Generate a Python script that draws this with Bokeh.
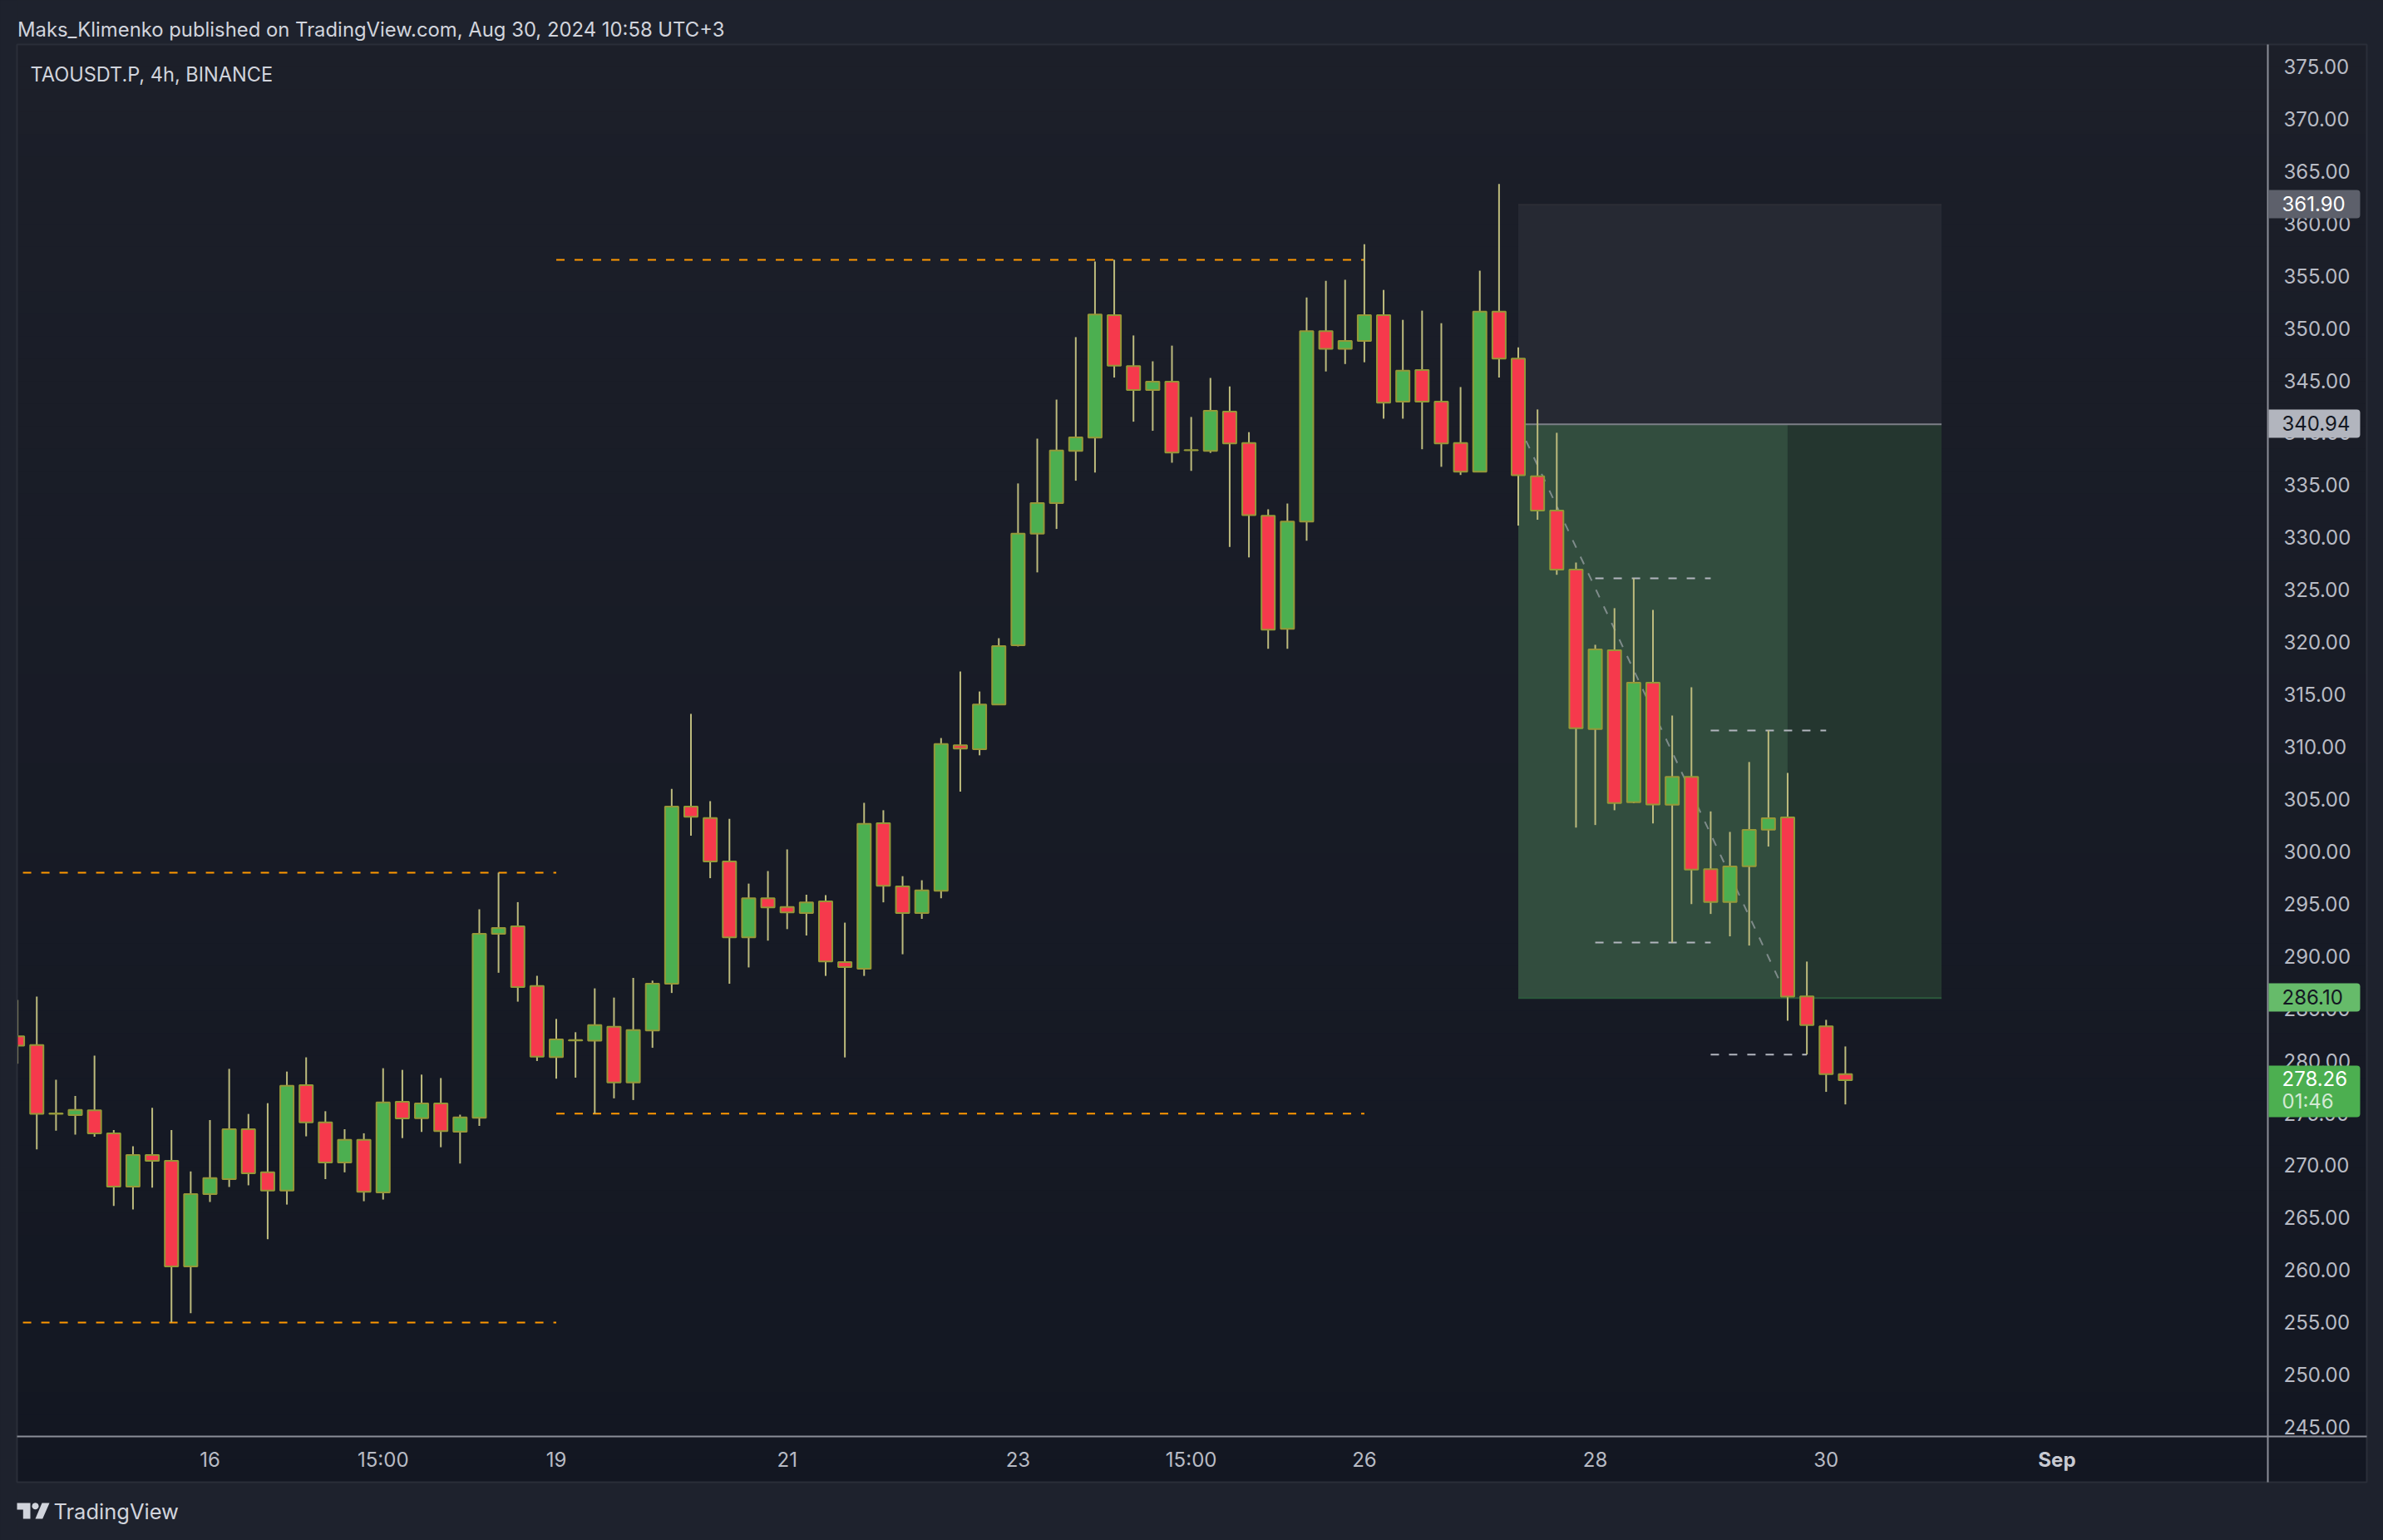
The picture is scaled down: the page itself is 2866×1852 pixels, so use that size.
import math
from bokeh.plotting import figure
from bokeh.models import (Range1d, LinearAxis, FixedTicker, Label, BoxAnnotation,
                          PolyAnnotation, ColumnDataSource, CustomJSTickFormatter)
from bokeh.embed import file_html
from bokeh.resources import INLINE

# ---------- data (TAOUSDT.P 4h candles) ----------
opens = [282.45,281.61,275.08,274.93,275.38,273.18,268.09,271.10,270.55,260.46,
         267.37,268.80,273.57,269.45,267.70,277.78,274.22,270.39,272.56,267.53,
         276.19,274.63,276.03,273.34,274.67,292.25,292.96,287.25,280.47,282.10,
         282.03,283.36,278.04,283.01,287.47,304.40,303.30,299.15,291.91,295.64,
         294.80,294.22,295.35,289.55,288.90,302.81,296.78,294.22,296.36,310.27,
         309.88,314.16,319.81,330.48,333.40,338.39,339.66,351.37,346.50,344.20,
         345.01,338.47,338.39,342.15,339.14,332.20,321.39,331.64,349.84,348.15,
         348.90,351.37,343.10,346.11,343.10,339.14,336.41,351.69,347.21,335.96,
         332.68,327.04,311.81,319.33,304.82,316.23,304.58,307.25,298.43,295.28,
         298.70,302.19,303.36,286.27,283.41,278.83]
highs = [285.92,286.25,278.30,276.75,280.60,273.50,271.94,275.61,273.50,269.54,
         274.44,279.34,275.03,276.06,279.08,280.44,275.29,273.57,273.18,279.40,
         279.24,278.79,278.46,274.96,294.58,298.09,295.27,288.23,284.11,282.84,
         287.03,286.15,288.03,287.77,306.09,313.26,304.92,303.23,297.04,298.24,
         300.31,295.98,295.94,293.31,304.76,304.05,297.75,297.36,310.95,317.31,
         315.40,320.49,335.28,339.56,343.29,349.26,356.49,356.65,349.42,346.95,
         348.45,341.63,345.36,344.55,340.18,332.81,333.36,353.05,354.64,354.74,
         358.14,353.77,350.91,351.79,350.59,344.49,355.61,363.89,348.28,342.35,
         340.12,327.73,319.86,323.36,326.22,323.20,313.11,315.81,303.94,301.98,
         308.66,311.68,307.62,289.59,284.02,281.48]
lows = [279.83,271.65,273.44,273.05,272.85,266.24,265.91,267.99,255.11,255.98,
        266.62,268.05,268.21,263.06,266.37,272.89,268.80,269.45,266.69,266.85,
        272.72,273.31,271.85,270.29,273.89,288.52,285.76,280.09,278.40,278.50,
        275.06,276.52,276.36,281.35,286.59,301.61,297.56,287.47,289.03,291.59,
        292.69,292.08,288.22,280.43,288.22,295.25,290.29,293.67,295.64,305.83,
        309.30,314.10,319.70,326.78,330.93,335.54,336.32,345.40,341.18,340.31,
        337.26,336.48,338.20,329.21,328.21,319.48,319.48,329.80,345.98,346.69,
        346.86,341.47,341.47,338.55,336.87,336.09,336.41,345.40,331.25,331.81,
        326.55,302.40,302.64,304.05,304.71,302.80,291.41,295.09,294.14,292.00,
        291.12,300.58,283.94,280.71,277.14,275.94]
closes = [281.55,275.03,275.03,275.42,273.18,268.09,271.10,270.55,260.46,267.37,
          268.90,273.57,269.35,267.70,277.72,274.22,270.39,272.56,267.60,276.13,
          274.60,276.03,273.40,274.70,292.25,292.80,287.16,280.51,282.16,282.05,
          283.52,278.04,283.04,287.48,304.40,303.43,299.15,291.91,295.64,294.77,
          294.28,295.25,289.61,289.06,302.75,296.84,294.22,296.39,310.37,309.95,
          314.16,319.74,330.48,333.40,338.42,339.69,351.43,346.53,344.20,345.01,
          338.23,338.45,342.22,339.10,332.26,321.30,331.64,349.84,348.15,348.90,
          351.37,343.00,346.05,343.10,339.10,336.41,351.69,347.21,336.06,332.68,
          327.04,311.89,319.41,304.74,316.23,304.60,307.25,298.38,295.28,298.67,
          302.17,303.28,286.25,283.52,278.83,278.26]

price_ticks = list(range(245, 380, 5))
time_tick_pos = [10, 19, 28, 40, 52, 61, 70, 82, 94]
time_tick_txt = ["16", "15:00", "19", "21", "23", "15:00", "26", "28", "30"]
month_tick_pos, month_tick_txt = 106, "Sep"

orange_starts = [0.28, 0.28, 28, 28]
orange_ends = [28, 28, 70, 70]
orange_prices = [298.08, 255.10, 275.05, 356.65]

white_starts = [82, 88, 82, 88]
white_ends = [88, 94, 88, 93]
white_prices = [326.22, 311.68, 291.41, 280.71]

stop_price, entry_price, target_price = 361.90, 340.94, 286.10
box_start, box_mid, box_end = 78, 92, 100

# ---------- scale helpers: reference pixel <-> data ----------
STEP = 23.14

def ix(px):
    return (px - 20.6) / STEP

def pr(py):
    return 375 - (py - 81) / 12.585

W, H = 2866, 1852
FRAME_L, FRAME_R, FRAME_T, FRAME_B = 20, 2846, 53, 1782
AXIS_X, AXIS_Y = 2727, 1727
OUTER = "#1e222d"

p = figure(width=W, height=H, output_backend="svg", toolbar_location=None,
           x_range=Range1d(ix(0), ix(W)), y_range=Range1d(pr(H), pr(0)),
           x_axis_location=None, y_axis_location=None,
           min_border_left=0, min_border_right=0, min_border_top=0, min_border_bottom=0,
           border_fill_color=OUTER, background_fill_color=OUTER, outline_line_color=None)
p.grid.visible = False

# background gradient of the pane
N = 64
c0, c1 = (0x1c, 0x1f, 0x29), (0x13, 0x17, 0x22)
bt, bb, bc = [], [], []
for k in range(N):
    a = k / (N - 1)
    bc.append("#%02x%02x%02x" % tuple(round(u + (v - u) * a) for u, v in zip(c0, c1)))
    bt.append(pr(FRAME_T + (FRAME_B - FRAME_T) * k / N))
    bb.append(pr(min(FRAME_B, FRAME_T + (FRAME_B - FRAME_T) * (k + 1) / N + 1.5)))
p.quad(left=ix(FRAME_L), right=ix(FRAME_R), top=bt, bottom=bb, fill_color=bc, line_color=None)

# position boxes
p.quad(left=box_start, right=box_end, top=stop_price, bottom=entry_price,
       fill_color="#262933", line_color=None)
p.quad(left=box_start, right=box_mid, top=entry_price, bottom=target_price,
       fill_color="#324d3e", line_color=None)
p.quad(left=box_mid, right=box_end, top=entry_price, bottom=target_price,
       fill_color="#24362f", line_color=None)
p.line([box_start, box_end], [stop_price, stop_price], line_color="#2c2e36", line_width=2)
p.line([box_start, box_end], [target_price, target_price], line_color="#2c5a3c", line_width=2)
p.line([box_start, box_end], [entry_price, entry_price], line_color="#7c7f88", line_width=2)
p.line([box_start, box_mid], [entry_price, target_price], line_color="#b2b5be", line_alpha=0.6,
       line_width=2, line_dash="10 12")

for a, b, v in zip(orange_starts, orange_ends, orange_prices):
    p.line([a, b], [v, v], line_color="#ff9800", line_width=2, line_dash="10 12")
for a, b, v in zip(white_starts, white_ends, white_prices):
    p.line([a, b], [v, v], line_color="#b2b5be", line_width=2, line_dash="10 12")

# candles
idx = list(range(len(opens)))
src = ColumnDataSource(dict(
    x=idx, o=opens, h=highs, l=lows, c=closes,
    top=[max(a, b) for a, b in zip(opens, closes)],
    bot=[min(a, b) for a, b in zip(opens, closes)],
    col=["#4caf50" if b >= a else "#f6394c" for a, b in zip(opens, closes)]))
p.segment(x0="x", x1="x", y0="l", y1="h", source=src, line_color="#bdbb7d", line_width=2)
p.vbar(x="x", width=16 / STEP, top="top", bottom="bot", source=src,
       fill_color="col", line_color="#959838", line_width=2)

# the pane clips the first candle at its left edge; then the pane border
p.quad(left=ix(0), right=ix(FRAME_L), top=pr(0), bottom=pr(H), fill_color=OUTER, line_color=None)
p.quad(left=ix(FRAME_L), right=ix(FRAME_R), top=pr(FRAME_T), bottom=pr(FRAME_B),
       fill_color=None, line_color="#2a2e39", line_width=2)

# axes drawn inside the pane; price labels sit 1.5 px above their tick to match the reference
FONT = "Inter"
LIFT = 1.5 / 12.585
yax = LinearAxis(fixed_location=ix(AXIS_X), ticker=FixedTicker(ticks=[t + LIFT for t in price_ticks]),
                 bounds=(pr(FRAME_B), pr(FRAME_T)),
                 formatter=CustomJSTickFormatter(code="return Math.round(tick).toFixed(2)"),
                 axis_line_color="#8b8e98", axis_line_width=2,
                 major_tick_line_color=None, minor_tick_line_color=None,
                 major_label_standoff=13, major_label_text_color="#b8bbc4",
                 major_label_text_font=FONT, major_label_text_font_size="24px")
p.add_layout(yax, "right")
xax = LinearAxis(fixed_location=pr(AXIS_Y), ticker=FixedTicker(ticks=time_tick_pos),
                 bounds=(ix(FRAME_L), ix(FRAME_R)),
                 major_label_overrides=dict(zip(time_tick_pos, time_tick_txt)),
                 axis_line_color="#8b8e98", axis_line_width=2,
                 major_tick_line_color=None, minor_tick_line_color=None,
                 major_label_standoff=7, major_label_text_color="#b8bbc4",
                 major_label_text_font=FONT, major_label_text_font_size="24px")
p.add_layout(xax, "below")

def label(px, py, text, color, size="24px", style="normal", align="left"):
    p.add_layout(Label(x=ix(px), y=pr(py), text=text, text_color=color, text_font=FONT,
                       text_font_size=size, text_font_style=style, text_align=align,
                       text_baseline="middle"))

def tag(top, bottom, color):
    p.add_layout(BoxAnnotation(left=ix(2728), right=ix(2838), top=pr(top), bottom=pr(bottom),
                               fill_color=color, fill_alpha=1, line_alpha=0,
                               border_radius=(0, 4, 4, 0)))

label(20.6 + STEP * month_tick_pos, 1755, month_tick_txt, "#c8cad2", style="bold", align="center")

tag(228, 262, "#5d606b")
label(2744, 244, f"{stop_price:.2f}", "#ffffff")
tag(492, 526, "#b2b5be")
label(2744, 508, f"{entry_price:.2f}", "#131722")
tag(1182, 1216, "#66bb6a")
label(2744, 1198, f"{target_price:.2f}", "#131722")
tag(1281, 1343, "#4caf50")
label(2744, 1296, f"{closes[-1]:.2f}", "#ffffff")
label(2744, 1324, "01:46", "#d3ead4")

label(20.5, 35, "Maks_Klimenko published on TradingView.com, Aug 30, 2024 10:58 UTC+3", "#d1d4dc", "23.85px")
label(36, 89, "TAOUSDT.P, 4h, BINANCE", "#d1d4dc", "23.55px")
label(64, 1817, "TradingView", "#d1d4dc", "25.5px")

# logo
LOGO = "#d1d4dc"
def poly(pts):
    p.add_layout(PolyAnnotation(xs=[ix(a) for a, _ in pts], ys=[pr(b) for _, b in pts],
                                fill_color=LOGO, fill_alpha=1, line_alpha=0))
poly([(20, 1807), (36, 1807), (36, 1826), (27.3, 1826), (27.3, 1815), (20, 1815)])
poly([(50, 1807), (59, 1807), (50.7, 1826), (42, 1826)])
poly([(42 + 4 * math.cos(t * math.pi / 10), 1810.7 + 4 * math.sin(t * math.pi / 10)) for t in range(20)])

html = file_html(p, INLINE)
html = html.replace("</head>", "<style>html,body{background:#1e222d;margin:0;padding:0;overflow:hidden}</style></head>", 1)
open("out.html", "w").write(html)
